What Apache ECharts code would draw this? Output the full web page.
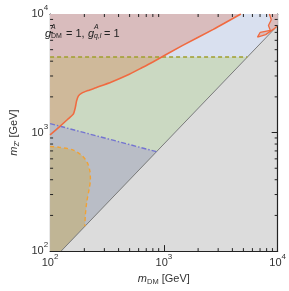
<!DOCTYPE html>
<html><head><meta charset="utf-8">
<script src="https://cdn.jsdelivr.net/npm/echarts@6/dist/echarts.min.js"></script>
<style>html,body{margin:0;padding:0;background:#fff}#c{width:289px;height:291px}</style>
</head><body><div id="c"></div>
<script>
// axis range and tick labels
const axisRange = [100, 10000];
const tickExponents = ['2', '3', '4'];
const minorTicks = [200,300,400,500,600,700,800,900,2000,3000,4000,5000,6000,7000,8000,9000];

// boundary curves [m_DM, m_Z']
const orangeSolidLeft = [[100,955],[120,1110],[145,1310],[160,1430],[166,1600],[171,1850],[177,2030],[190,2150],[215,2260],[253,2390],[347,2670],[475,3040],[640,3520],[800,3940],[1450,5410],[2720,7420],[4750,10000]];
const orangeSolidRight = [[8450,10000],[8790,8930],[8300,8000],[8610,7280],[7030,7010],[6650,6390],[7850,6700],[9200,7450],[9800,7840]];
const orangeDashed = [[100,763],[120,752],[160,712],[190,640],[212,560],[224,470],[226,400],[220,330],[210,260],[204,200],[202,162]];
const purpleDashDot = [[100,1190],[860,690]];
const dijetLine = [[100,4330],[5410,4330]];
const diagonal = [[125,100],[10000,8000]];

// shaded regions
const regionAllowed = [[100,100],[125,100],[10000,8000],[10000,10000],[100,10000]];
const regionBelowDijet = [[100,100],[125,100],[5410,4330],[100,4330]];
const regionLeftPink = orangeSolidLeft.concat([[100,10000]]);
const regionLeftTan = [[100,955],[120,1110],[145,1310],[160,1430],[166,1600],[171,1850],[177,2030],[190,2150],[215,2260],[253,2390],[347,2670],[475,3040],[640,3520],[800,3940],[930,4330],[100,4330]];
const regionRightPink = orangeSolidRight.concat([[10000,8000],[10000,10000]]);
const regionPurple = [[100,1190],[860,690],[125,100],[100,100]];
const regionOrangeDashed = orangeDashed.concat([[125,100],[100,100]]);

const chart = echarts.init(document.getElementById('c'), null, {renderer:'canvas'});
const FONT = 'Liberation Sans';

function poly(points, color, z) {
  return {
    type:'custom', silent:true, z:z, clip:true,
    xAxisIndex:0, yAxisIndex:0,
    data:[points[0]],
    renderItem:function(params, api){
      return {type:'polygon', shape:{points:points.map(p=>api.coord(p))}, style:{fill:color}};
    }
  };
}
function line(data, color, width, type, z, smooth) {
  return {type:'line', data:data, showSymbol:false, silent:true, z:z, clip:true, smooth:smooth||false,
    lineStyle:{color:color, width:width, type:type}, xAxisIndex:0, yAxisIndex:0, animation:false};
}
const labelRich = {
  b:{fontSize:11, color:'#333', fontFamily:FONT, lineHeight:20},
  s:{fontSize:8, color:'#333', fontFamily:FONT, lineHeight:9, verticalAlign:'top'}
};
function fmt(v, i){ return '{b|10}{s|' + tickExponents[i] + '}'; }

const baseAxis = {
  type:'log', logBase:10, min:axisRange[0], max:axisRange[1],
  splitLine:{show:false},
  axisLine:{show:true, lineStyle:{color:'#222', width:1.2}},
  axisTick:{show:true, inside:true, length:6, lineStyle:{color:'#222', width:1}},
};

const minorTickX = {
  type:'custom', silent:true, z:20, xAxisIndex:0, yAxisIndex:0,
  data:minorTicks.map(v=>[v, axisRange[0]]),
  renderItem:function(params, api){
    const v = api.value(0);
    const b = api.coord([v, axisRange[0]]);
    const t = api.coord([v, axisRange[1]]);
    const st = {stroke:'#222', lineWidth:1};
    return {type:'group', children:[
      {type:'line', shape:{x1:b[0],y1:b[1],x2:b[0],y2:b[1]-3}, style:st},
      {type:'line', shape:{x1:t[0],y1:t[1],x2:t[0],y2:t[1]+3}, style:st}
    ]};
  }
};
const minorTickY = {
  type:'custom', silent:true, z:20, xAxisIndex:0, yAxisIndex:0,
  data:minorTicks.map(v=>[axisRange[0], v]),
  renderItem:function(params, api){
    const v = api.value(1);
    const l = api.coord([axisRange[0], v]);
    const r = api.coord([axisRange[1], v]);
    const st = {stroke:'#222', lineWidth:1};
    return {type:'group', children:[
      {type:'line', shape:{x1:l[0],y1:l[1],x2:l[0]+3,y2:l[1]}, style:st},
      {type:'line', shape:{x1:r[0],y1:r[1],x2:r[0]-3,y2:r[1]}, style:st}
    ]};
  }
};

const small = 7, big = 11;
const txt = (x, y, s, size, italic) => ({type:'text', left:x, top:y, z:100,
  style:{text:s, fontSize:size, fontFamily:FONT, fill:'#222', fontStyle: italic?'italic':'normal'}});

const nameRich = {i:{fontStyle:'italic', fontSize:11, color:'#333', fontFamily:FONT, lineHeight:14},
  sub:{fontSize:7.5, color:'#333', fontFamily:FONT, verticalAlign:'bottom', lineHeight:9}};

chart.setOption({
  animation:false,
  grid:{left:33, right:8, top:14, bottom:30, show:true, backgroundColor:'#dcdcdc', borderWidth:0},
  xAxis:[
    Object.assign({}, baseAxis, {position:'bottom',
      axisLabel:{show:true, formatter:fmt, rich:labelRich, margin:2},
      name:'{i|m}{sub|DM} [GeV]', nameLocation:'middle', nameGap:20,
      nameTextStyle:{fontSize:11, color:'#333', fontFamily:FONT, rich:nameRich}}),
    Object.assign({}, baseAxis, {position:'top', axisLabel:{show:false}})
  ],
  yAxis:[
    Object.assign({}, baseAxis, {position:'left',
      axisLabel:{show:true, formatter:fmt, rich:labelRich, margin:2},
      name:'{i|m}{sub|Z\u2032} [GeV]', nameLocation:'middle', nameGap:25, nameRotate:90,
      nameTextStyle:{fontSize:11, color:'#333', fontFamily:FONT, rich:nameRich}}),
    Object.assign({}, baseAxis, {position:'right', axisLabel:{show:false}})
  ],
  series:[
    poly(regionAllowed, '#d9e0ef', 1),
    poly(regionBelowDijet, '#cbd9c2', 2),
    poly(regionLeftPink, '#d9bcbd', 3),
    poly(regionLeftTan, '#cfb99a', 4),
    poly(regionRightPink, '#d9bcbd', 3),
    poly(regionPurple, '#b9bdc6', 5),
    poly(regionOrangeDashed, '#c0b595', 6),
    line(diagonal, '#7a7a7a', 1, 'solid', 10),
    line(dijetLine, '#a09e2c', 1.5, [4,3], 11),
    line(purpleDashDot, '#7474d0', 1.4, [5,2,1.5,2], 11),
    line(orangeDashed, '#f0a235', 1.4, [4,3], 11, 0.3),
    line(orangeSolidLeft, '#f06a40', 1.6, 'solid', 12, 0.2),
    line(orangeSolidRight, '#f06a40', 1.3, 'solid', 12),
    minorTickX, minorTickY
  ],
  graphic:[
    txt(45, 28, 'g', big, true),
    txt(51, 24, 'A', small, true),
    txt(51, 33, 'DM', small, false),
    txt(66, 28, '= 1,', big, false),
    txt(88, 28, 'g', big, true),
    txt(94, 24, 'A', small, true),
    txt(94, 33, 'q,l', small, true),
    txt(104, 28, '= 1', big, false)
  ]
});
</script></body></html>
